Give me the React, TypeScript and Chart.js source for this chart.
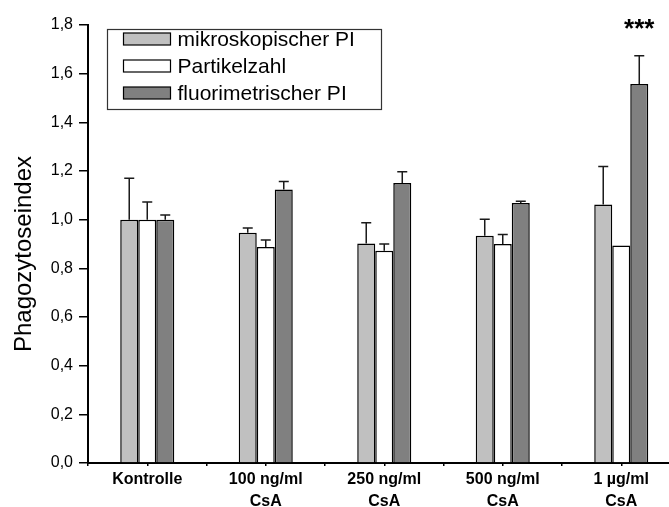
import React, { useEffect, useRef } from 'react';
import { Chart, registerables } from 'chart.js';

Chart.register(...registerables);

const categories: string[][] = [
  ['Kontrolle'],
  ['100 ng/ml', 'CsA'],
  ['250 ng/ml', 'CsA'],
  ['500 ng/ml', 'CsA'],
  ['1 µg/ml', 'CsA'],
];
const seriesNames = ['mikroskopischer PI', 'Partikelzahl', 'fluorimetrischer PI'];
const mikroskopisch = [1.0, 0.946, 0.902, 0.934, 1.062];
const mikroskopischErr = [0.17, 0.02, 0.085, 0.068, 0.157];
const partikelzahl = [1.0, 0.888, 0.872, 0.9, 0.894];
const partikelzahlErr = [0.073, 0.028, 0.028, 0.039, 0];
const fluorimetrisch = [1.0, 1.124, 1.151, 1.069, 1.558];
const fluorimetrischErr = [0.019, 0.033, 0.046, 0.007, 0.116];
const fluorimetrischSignificance = ['', '', '', '', '***'];
const yAxisTitle = 'Phagozytoseindex';
const yMin = 0;
const yMax = 1.8;
const yStep = 0.2;

const seriesValues = [mikroskopisch, partikelzahl, fluorimetrisch];
const seriesErrors = [mikroskopischErr, partikelzahlErr, fluorimetrischErr];
const seriesSignificance = [[], [], fluorimetrischSignificance];
const seriesColors = ['#c0c0c0', '#ffffff', '#808080'];

const FONT = '"Liberation Sans", Arial, sans-serif';

const errorBarPlugin = {
  id: 'errorBars',
  afterDatasetsDraw(chart: any) {
    const ctx = chart.ctx;
    const y = chart.scales.y;
    ctx.save();
    ctx.strokeStyle = '#1a1a1a';
    ctx.lineWidth = 1.5;
    seriesErrors.forEach((errs, di) => {
      const meta = chart.getDatasetMeta(di);
      meta.data.forEach((bar: any, i: number) => {
        const e = errs[i];
        const v = seriesValues[di][i];
        const top = y.getPixelForValue(v + e);
        if (e > 0) {
          ctx.beginPath();
          ctx.moveTo(bar.x, bar.y);
          ctx.lineTo(bar.x, top);
          ctx.moveTo(bar.x - 5, top);
          ctx.lineTo(bar.x + 5, top);
          ctx.stroke();
        }
        const sig = (seriesSignificance[di] as string[])[i];
        if (sig) {
          ctx.fillStyle = '#000';
          ctx.font = `bold 26px ${FONT}`;
          ctx.textAlign = 'center';
          ctx.textBaseline = 'alphabetic';
          ctx.fillText(sig, bar.x, top - 19);
        }
      });
    });
    ctx.restore();
  },
};

const legendAndTitlePlugin = {
  id: 'customLegend',
  afterDraw(chart: any) {
    const ctx = chart.ctx;
    const area = chart.chartArea;
    ctx.save();
    // legend box
    const bx = area.left + 19.5;
    const by = area.top + 4.5;
    const bw = 274;
    const bh = 80;
    ctx.fillStyle = '#fff';
    ctx.fillRect(bx, by, bw, bh);
    ctx.strokeStyle = '#333';
    ctx.lineWidth = 1.2;
    ctx.strokeRect(bx, by, bw, bh);
    seriesNames.forEach((name, i) => {
      const cy = by + 9.5 + i * 27;
      ctx.fillStyle = seriesColors[i];
      ctx.fillRect(bx + 16, cy - 6, 47, 12);
      ctx.strokeStyle = '#000';
      ctx.lineWidth = 1.2;
      ctx.strokeRect(bx + 16, cy - 6, 47, 12);
      ctx.fillStyle = '#000';
      ctx.font = `21px ${FONT}`;
      ctx.textAlign = 'left';
      ctx.textBaseline = 'middle';
      ctx.fillText(name, bx + 70, cy + 1);
    });
    // y axis title
    ctx.translate(24, (area.top + area.bottom) / 2 + 10);
    ctx.rotate(-Math.PI / 2);
    ctx.fillStyle = '#000';
    ctx.font = `24px ${FONT}`;
    ctx.textAlign = 'center';
    ctx.textBaseline = 'middle';
    ctx.fillText(yAxisTitle, 0, 0);
    ctx.restore();
  },
};

export default function App() {
  const canvasRef = useRef<HTMLCanvasElement | null>(null);

  useEffect(() => {
    const canvas = canvasRef.current;
    if (!canvas) return;
    const chart = new Chart(canvas, {
      type: 'bar',
      data: {
        datasets: seriesNames.map((name, di) => ({
          label: name,
          data: seriesValues[di].map((v, i) => ({ x: i + 1, y: v })),
          backgroundColor: seriesColors[di],
          borderColor: '#000',
          borderWidth: 1.5,
          // ruler spacing includes the half-category ticks, so this gives ~45% of a category
          categoryPercentage: 0.912,
          barPercentage: 1,
        })),
      },
      options: {
        responsive: false,
        animation: false,
        devicePixelRatio: 1,
        layout: { padding: { top: 25, left: 0, right: 19.5, bottom: 0 } },
        plugins: {
          legend: { display: false },
          tooltip: { enabled: false },
        },
        scales: {
          x: {
            type: 'linear',
            offset: false,
            min: 0.5,
            max: categories.length + 0.5,
            afterFit: (scale: any) => {
              scale.height = 44;
            },
            ticks: {
              stepSize: 0.5,
              autoSkip: false,
              maxRotation: 0,
              minRotation: 0,
              padding: 2,
              color: '#000',
              font: { family: FONT, size: 16, weight: 'bold', lineHeight: 1.4 },
              callback: (v: any) => {
                const n = Number(v);
                return Number.isInteger(n) && categories[n - 1] ? categories[n - 1] : '';
              },
            },
            grid: {
              offset: false,
              drawOnChartArea: false,
              drawTicks: true,
              tickLength: 3,
              color: '#000',
              lineWidth: 1.5,
            },
            border: { display: true, color: '#000', width: 2 },
          },
          y: {
            min: yMin,
            max: yMax,
            afterFit: (scale: any) => {
              scale.width = 88;
            },
            ticks: {
              stepSize: yStep,
              padding: 6,
              color: '#000',
              font: { family: FONT, size: 16 },
              callback: (v: any) => Number(v).toFixed(1).replace('.', ','),
            },
            grid: {
              drawOnChartArea: false,
              drawTicks: true,
              tickLength: 9,
              color: '#000',
              lineWidth: 1.5,
            },
            border: { display: true, color: '#000', width: 2 },
          },
        },
      },
      plugins: [errorBarPlugin, legendAndTitlePlugin],
    } as any);
    return () => chart.destroy();
  }, []);

  return (
    <div
      style={{
        position: 'absolute',
        left: 0,
        top: 0,
        width: 669,
        height: 507,
        overflow: 'hidden',
        background: '#fff',
      }}
    >
      <canvas ref={canvasRef} width={700} height={507} style={{ display: 'block' }} />
    </div>
  );
}
